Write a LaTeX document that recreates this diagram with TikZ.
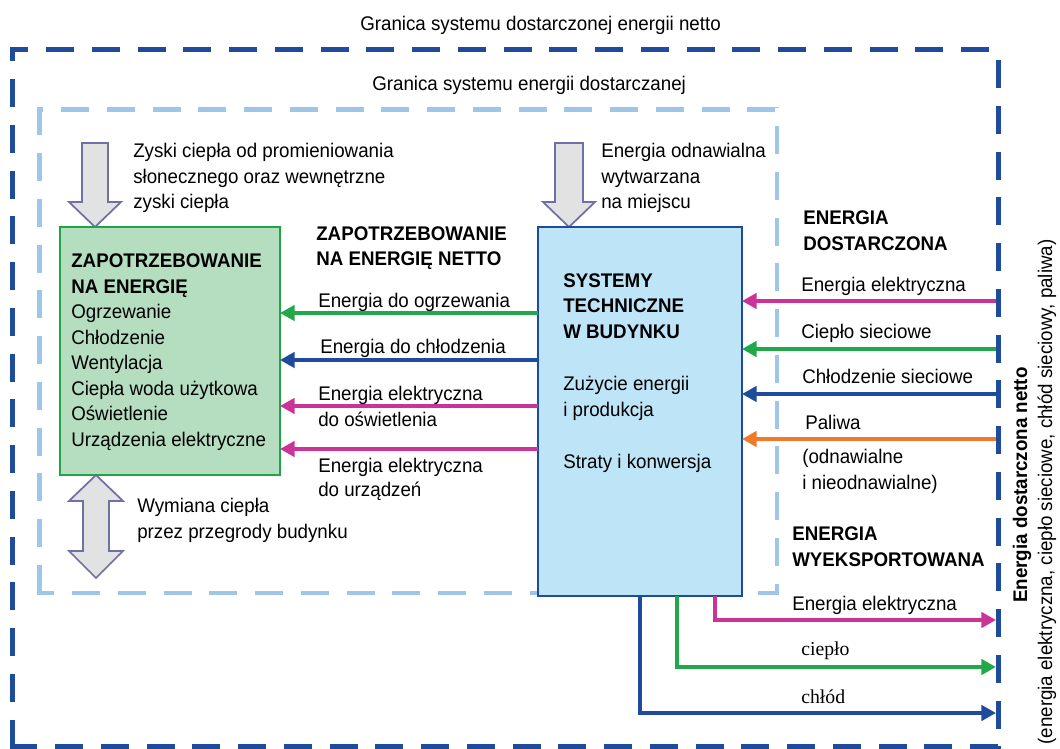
\documentclass[tikz,border=0pt]{standalone}
\usepackage{fontspec}
\setmainfont{Liberation Sans}[FakeStretch=0.95]
\newfontfamily\serifx{Liberation Serif}
\usetikzlibrary{arrows.meta}
\definecolor{dblue}{RGB}{30,75,155}
\definecolor{lblue}{RGB}{157,198,234}
\definecolor{ggreen}{RGB}{34,168,74}
\definecolor{mag}{RGB}{204,51,153}
\definecolor{orng}{RGB}{241,121,40}
\definecolor{gfill}{RGB}{181,221,192}
\definecolor{gedge}{RGB}{33,163,72}
\definecolor{bfill}{RGB}{190,229,247}
\definecolor{afill}{RGB}{226,226,226}
\definecolor{aedge}{RGB}{112,112,168}
\newcommand\myfs{\fontsize{14.8}{18}\selectfont}
\begin{document}
\begin{tikzpicture}[x=0.75pt,y=-0.75pt,
  txt/.style={anchor=base west, inner sep=0pt, font=\myfs},
  btxt/.style={anchor=base west, inner sep=0pt, font=\myfs\bfseries},
  stxt/.style={anchor=base west, inner sep=0pt, font=\myfs\serifx},
  flow/.style={line width=3.4pt, -{Triangle[length=11pt,width=11.5pt]}},
  darkb/.style={dblue, line width=3.75pt, dash pattern=on 21pt off 13.3125pt},
  lightb/.style={lblue, line width=3.4pt, dash pattern=on 21pt off 13.3125pt},
  blockarrow/.style={fill=afill, draw=aedge, line width=1.3pt, line join=miter},
  demandbox/.style={draw=gedge, fill=gfill, line width=1.6pt, inner sep=0pt, outer sep=0pt, anchor=north west},
  sysbox/.style={draw=dblue, fill=bfill, line width=1.6pt, inner sep=0pt, outer sep=0pt, anchor=north west}]
\useasboundingbox (0,0) rectangle (1060,749);
\fill[white] (0,0) rectangle (1060,749);
% outer boundary
\draw[darkb, dash phase=7.3125pt] (10,49.5) -- (1000.5,49.5);
\draw[darkb, dash phase=24.5625pt] (998,47) -- (998,749);
\draw[darkb, dash phase=0.5625pt] (10,746.5) -- (1000.5,746.5);
\draw[darkb, dash phase=10.3125pt] (12.5,47) -- (12.5,749);
% inner boundary
\draw[lightb, dash phase=16.5pt] (37.25,109.5) -- (779.25,109.5);
\draw[lightb, dash phase=0pt] (39.5,107.25) -- (39.5,595.25);
\draw[lightb, dash phase=20.25pt] (777,107.25) -- (777,595.25);
\draw[lightb, dash phase=8.25pt] (37.25,593) -- (779.25,593);
% titles
\node[txt] (tt1) at (360,30.5) {Granica systemu dostarczonej energii netto};
\node[txt] (tt2) at (372,91) {Granica systemu energii dostarczanej};
% block arrows
\draw[blockarrow] (82,143) -- (108,143) -- (108,202) -- (121,202) -- (95,227) -- (69,202) -- (82,202) -- cycle;
\draw[blockarrow] (555,143) -- (583,143) -- (583,202) -- (595,202) -- (569,227) -- (543,202) -- (555,202) -- cycle;
\draw[blockarrow] (96,475) -- (123,501) -- (109,501) -- (109,551) -- (123,551) -- (96,578) -- (69,551) -- (83,551) -- (83,501) -- (69,501) -- cycle;
% boxes
\node[demandbox, minimum width=165pt, minimum height=186pt] (dem) at (60,227) {};
\node[sysbox, minimum width=153pt, minimum height=276.75pt] (sys) at (538,227) {};
% texts
\node[txt] (z1) at (133,157) {Zyski ciepła od promieniowania};
\node[txt] (z2) at (133,183) {słonecznego oraz wewnętrzne};
\node[txt] (z3) at (133,208) {zyski ciepła};
\node[btxt] (d1) at (71,267) {ZAPOTRZEBOWANIE};
\node[btxt] (d2) at (71,293) {NA ENERGIĘ};
\node[txt] (d3) at (71,318) {Ogrzewanie};
\node[txt] (d4) at (71,344) {Chłodzenie};
\node[txt] (d5) at (71,369) {Wentylacja};
\node[txt] (d6) at (71,395) {Ciepła woda użytkowa};
\node[txt] (d7) at (71,420) {Oświetlenie};
\node[txt] (d8) at (71,446) {Urządzenia elektryczne};
\node[btxt] (n1) at (316,240) {ZAPOTRZEBOWANIE};
\node[btxt] (n2) at (316,265) {NA ENERGIĘ NETTO};
\node[txt] (a1) at (318,307) {Energia do ogrzewania};
\node[txt] (a2) at (320,353) {Energia do chłodzenia};
\node[txt] (a3) at (318,400) {Energia elektryczna};
\node[txt] (a4) at (318,426) {do oświetlenia};
\node[txt] (a5) at (318,472) {Energia elektryczna};
\node[txt] (a6) at (318,496) {do urządzeń};
\node[txt] (w1) at (137,512) {Wymiana ciepła};
\node[txt] (w2) at (137,538) {przez przegrody budynku};
\node[btxt] (s1) at (563,287) {SYSTEMY};
\node[btxt] (s2) at (563,312) {TECHNICZNE};
\node[btxt] (s3) at (563,338) {W BUDYNKU};
\node[txt] (s4) at (563,390) {Zużycie energii};
\node[txt] (s5) at (563,416) {i produkcja};
\node[txt] (s6) at (563,468) {Straty i konwersja};
\node[txt] (o1) at (601,157) {Energia odnawialna};
\node[txt] (o2) at (601,183) {wytwarzana};
\node[txt] (o3) at (601,208) {na miejscu};
\node[btxt] (e1) at (803,224) {ENERGIA};
\node[btxt] (e2) at (803,250) {DOSTARCZONA};
\node[txt] (r1t) at (801,291) {Energia elektryczna};
\node[txt] (r2t) at (801,338) {Ciepło sieciowe};
\node[txt] (r3t) at (802,383) {Chłodzenie sieciowe};
\node[txt] (r4t) at (805,429) {Paliwa};
\node[txt] (r5t) at (802,463) {(odnawialne};
\node[txt] (r6t) at (802,489) {i nieodnawialne)};
\node[btxt] (x1) at (792,540) {ENERGIA};
\node[btxt] (x2) at (792,566) {WYEKSPORTOWANA};
\node[txt] (x3) at (792,610) {Energia elektryczna};
\node[stxt] (x4) at (801,655) {ciepło};
\node[stxt] (x5) at (801,703) {chłód};
\node[rotate=90, anchor=base, inner sep=0pt, font=\myfs\bfseries] (vt1) at (1027,485) {Energia dostarczona netto};
\node[rotate=90, anchor=base, inner sep=0pt, font=\myfs] (vt2) at (1052,492) {(energia elektryczna, ciepło sieciowe, chłód sieciowy, paliwa)};
% internal flows
\draw[flow, ggreen] (sys.west |- 0,313) -- (dem.east |- 0,313);
\draw[flow, dblue] (sys.west |- 0,360) -- (dem.east |- 0,360);
\draw[flow, mag] (sys.west |- 0,406) -- (dem.east |- 0,406);
\draw[flow, mag] (sys.west |- 0,449) -- (dem.east |- 0,449);
% delivered
\coordinate (rin1) at (996,301);
\coordinate (rin2) at (996,349);
\coordinate (rin3) at (996,394);
\coordinate (rin4) at (996,439);
\draw[flow, mag] (rin1) -- (sys.east |- rin1);
\draw[flow, ggreen] (rin2) -- (sys.east |- rin2);
\draw[flow, dblue] (rin3) -- (sys.east |- rin3);
\draw[flow, orng] (rin4) -- (sys.east |- rin4);
% exported
\coordinate (eb1) at (715,620);
\coordinate (eb2) at (677,667);
\coordinate (eb3) at (640,713);
\coordinate (ex1) at (996,620);
\coordinate (ex2) at (996,667);
\coordinate (ex3) at (996,713);
\draw[flow, mag] (sys.south -| eb1) -- (eb1) -- (ex1);
\draw[flow, ggreen] (sys.south -| eb2) -- (eb2) -- (ex2);
\draw[flow, dblue] (sys.south -| eb3) -- (eb3) -- (ex3);
\end{tikzpicture}
\end{document}
